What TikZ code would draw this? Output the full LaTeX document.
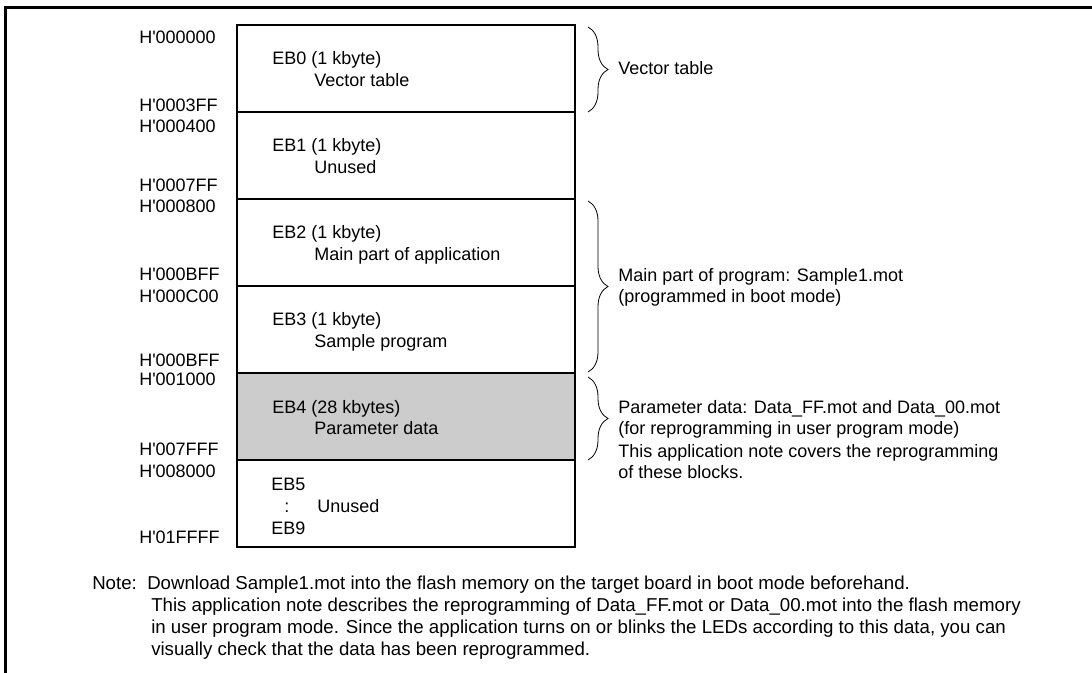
\documentclass[tikz,border=0pt]{standalone}
\usepackage{fontspec}
\setmainfont{Liberation Sans}
\usetikzlibrary{decorations.pathreplacing}
\newcommand\haddr[1]{H\textquotesingle#1}
\begin{document}
\begin{tikzpicture}[x=0.75pt,y=-0.75pt,
  every node/.style={font=\fontsize{13.5}{16.5}\selectfont,inner sep=0pt},
  txt/.style={anchor=base west},
  notetxt/.style={anchor=base west,font=\fontsize{14}{16.5}\selectfont},
  memrow/.style={draw=black,line width=1.5pt},
  curly/.style={decorate,decoration={brace,amplitude=15pt},line width=0.6pt}]
\useasboundingbox (0,0) rectangle (1092,673);
% frame
\draw[line width=2.25pt] (5.5,673) -- (5.5,7.5) -- (1092,7.5);
% memory blocks
\fill[black!20] (237,373) rectangle (575,460);
\draw[memrow] (237,25) rectangle (575,547);
\foreach \y in {112,199,286,373,460}
  \draw[memrow] (237,\y) -- (575,\y);
% addresses
\foreach \y/\a [count=\i] in {
  44/000000,
  112/0003FF,
  133/000400,
  192/0007FF,
  213/000800,
  281/000BFF,
  303/000C00,
  367/000BFF,
  386/001000,
  455/007FFF,
  477/008000,
  543/01FFFF
}{ \node[txt] (addr\i) at (139,\y) {\haddr{\a}}; }
% block texts
\node[txt] (eb0) at (272,65) {EB0 (1 kbyte)};
\node[txt] (eb0use) at (314,87) {Vector table};
\node[txt] (eb1) at (272,152) {EB1 (1 kbyte)};
\node[txt] (eb1use) at (314,174) {Unused};
\node[txt] (eb2) at (272,239) {EB2 (1 kbyte)};
\node[txt] (eb2use) at (314,261) {Main part of application};
\node[txt] (eb3) at (272,326) {EB3 (1 kbyte)};
\node[txt] (eb3use) at (314,348) {Sample program};
\node[txt] (eb4) at (272,413) {EB4 (28 kbytes)};
\node[txt] (eb4use) at (314,435) {Parameter data};
\node[txt] (eb5) at (271,490) {EB5};
\node[txt] (dots) at (284,512) {:};
\node[txt] (eb5use) at (317,512) {Unused};
\node[txt] (eb9) at (271,534) {EB9};
% braces
\draw[curly] (588,27) -- (588,112);
\draw[curly] (588,201) -- (588,372);
\draw[curly] (588,377) -- (588,460);
\node[txt] (vec) at (618,75) {Vector table};
\node[txt] (main1) at (618,282) {Main part of program: Sample1.mot};
\node[txt] (main2) at (618,303) {(programmed in boot mode)};
\node[txt] (par1) at (618,413) {Parameter data: Data\_FF.mot and Data\_00.mot};
\node[txt] (par2) at (618,435) {(for reprogramming in user program mode)};
\node[txt] (par3) at (618,457) {This application note covers the reprogramming};
\node[txt] (par4) at (618,478) {of these blocks.};
% note
\node[notetxt] (note) at (92,589) {Note:};
\node[notetxt] (note1) at (147,589) {Download Sample1.mot into the flash memory on the target board in boot mode beforehand.};
\node[notetxt] (note2) at (151,611) {This application note describes the reprogramming of Data\_FF.mot or Data\_00.mot into the flash memory};
\node[notetxt] (note3) at (151,633) {in user program mode. Since the application turns on or blinks the LEDs according to this data, you can};
\node[notetxt] (note4) at (151,655) {visually check that the data has been reprogrammed.};
\end{tikzpicture}
\end{document}
